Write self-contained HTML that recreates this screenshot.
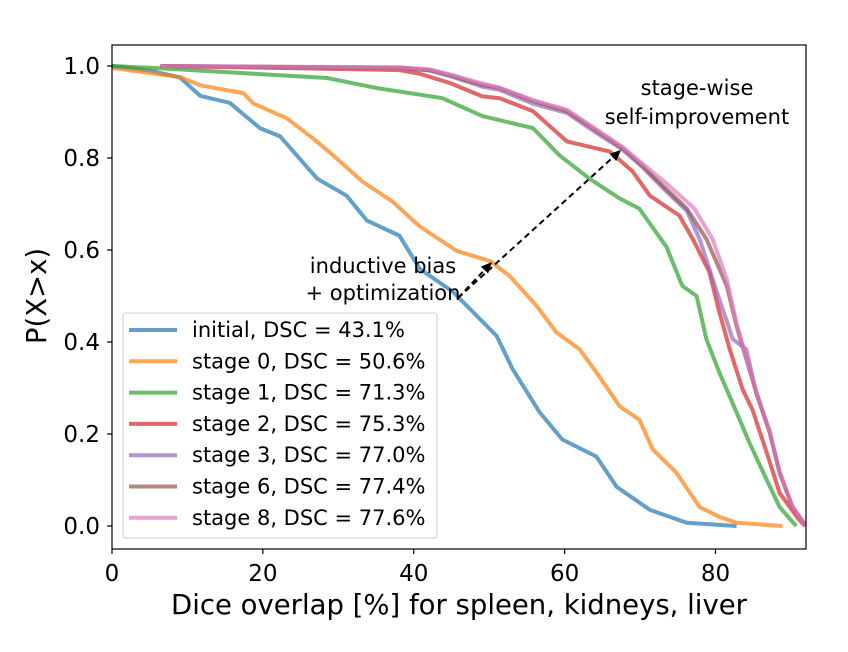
<!DOCTYPE html>
<html><head><meta charset="utf-8"><style>
body{margin:0;background:#fff}
svg text{font-family:"DejaVu Sans","Liberation Sans",sans-serif;fill:#000}
</style></head><body>
<svg id="chart" width="848" height="647" viewBox="0 0 848 647" xmlns="http://www.w3.org/2000/svg">
<rect width="848" height="647" fill="#fff"/>
<g id="plot"></g>
</svg>
<script>
const xTicks=[0,20,40,60,80];
const yTicks=[0.0,0.2,0.4,0.6,0.8,1.0];
const yTickLabels=["0.0","0.2","0.4","0.6","0.8","1.0"];
const seriesNames=["initial, DSC = 43.1%","stage 0, DSC = 50.6%","stage 1, DSC = 71.3%","stage 2, DSC = 75.3%","stage 3, DSC = 77.0%","stage 6, DSC = 77.4%","stage 8, DSC = 77.6%"];
const seriesColors=["#1f77b4","#ff7f0e","#2ca02c","#d62728","#9467bd","#8c564b","#e377c2"];
const initialX=[0,5,9,11.7,15.6,19.6,22.3,27.2,31.1,33.8,38.1,40.8,45.2,51,53.1,56.7,59.7,64.2,66.9,71.3,76.2,82.8];
const initialY=[1.0,0.99,0.975,0.935,0.92,0.865,0.847,0.755,0.718,0.664,0.631,0.559,0.509,0.413,0.341,0.247,0.188,0.151,0.085,0.035,0.007,0.0];
const stage0X=[0,9,11.7,17.4,18.7,23.2,26.6,29.3,33.2,37.2,40.8,45.7,50.1,52.7,56.3,58.9,62,64.6,67.3,69.9,71.7,74.8,77.9,80.5,82.8,88.9];
const stage0Y=[0.996,0.976,0.958,0.941,0.919,0.886,0.843,0.806,0.749,0.705,0.651,0.598,0.576,0.544,0.478,0.421,0.384,0.325,0.26,0.231,0.166,0.116,0.041,0.02,0.007,0.0];
const stage1X=[0,6.4,28.5,35.1,39.5,43.8,49.1,55.8,59.3,63.3,67.3,69.9,73.5,75.6,77.5,78.8,80.5,82.8,84.5,86.8,88.5,90.7];
const stage1Y=[1.0,0.995,0.974,0.952,0.941,0.93,0.891,0.865,0.806,0.755,0.712,0.69,0.607,0.522,0.5,0.406,0.334,0.247,0.181,0.1,0.041,0.0];
const stage2X=[7,38.1,40.8,44.8,49.1,51.4,55.8,60.3,66,69,71.3,75.2,77,79.2,80.5,81.9,83.6,84.9,86.8,88.5,91.1,91.9];
const stage2Y=[1.0,0.991,0.983,0.963,0.934,0.93,0.902,0.836,0.814,0.771,0.718,0.675,0.624,0.552,0.465,0.384,0.297,0.253,0.159,0.072,0.013,0.0];
const stage3X=[6.4,38.1,42.1,44.8,49.1,51.4,55.8,60.3,63.7,67.7,70.3,73,76.2,77.9,80.5,82.3,84.1,85.4,87.2,88.5,90.2,92];
const stage3Y=[1.0,0.996,0.99,0.978,0.955,0.948,0.918,0.898,0.86,0.818,0.78,0.735,0.685,0.624,0.493,0.406,0.384,0.29,0.203,0.116,0.041,0.0];
const stage6X=[6.4,38.1,42.1,44.8,49.1,51.4,55.8,60.3,63.7,67.7,70.3,73,76.2,78.8,81.5,82.8,84.1,85.4,87.2,88.5,90.2,92];
const stage6Y=[1.0,0.996,0.991,0.98,0.959,0.952,0.924,0.902,0.865,0.821,0.784,0.74,0.69,0.624,0.522,0.434,0.362,0.29,0.203,0.116,0.041,0.0];
const stage8X=[6.4,38.1,42.1,44.8,49.1,51.4,55.8,60.3,63.7,67.7,70.3,73.5,77.2,79.6,81.5,82.8,84.1,85.4,87.2,88.5,90.2,92];
const stage8Y=[1.0,0.997,0.993,0.982,0.962,0.953,0.926,0.905,0.868,0.824,0.788,0.745,0.69,0.624,0.537,0.44,0.365,0.293,0.205,0.118,0.043,0.0];
const allX=[initialX,stage0X,stage1X,stage2X,stage3X,stage6X,stage8X];
const allY=[initialY,stage0Y,stage1Y,stage2Y,stage3Y,stage6Y,stage8Y];

const L=112,R=806,T=45,B=549;
const sx=v=>L+(v-0)*(R-L)/92;
const sy=v=>526-v*460;
const NS="http://www.w3.org/2000/svg";
const g=document.getElementById('plot');
function mk(tag,attrs,parent){const e=document.createElementNS(NS,tag);for(const k in attrs)e.setAttribute(k,attrs[k]);(parent||g).appendChild(e);return e;}

const clip=mk('clipPath',{id:'cp'});mk('rect',{x:L,y:T,width:R-L,height:B-T},clip);
const lines=mk('g',{'clip-path':'url(#cp)'});


allX.forEach((xs,i)=>{
  let d='';
  xs.forEach((x,j)=>{
    const px=sx(x),py=sy(allY[i][j]);
    d+=(j===0?'M':' L')+px.toFixed(1)+' '+py.toFixed(1);
  });
  const p=mk('path',{d:d,fill:'none',stroke:seriesColors[i],'stroke-width':4,'stroke-opacity':0.7,'stroke-linejoin':'round'},lines);
  
  
});

const fr=mk('rect',{x:L,y:T,width:R-L,height:B-T,fill:'none',stroke:'#000','stroke-width':1.2});



xTicks.forEach(v=>{
  mk('line',{x1:sx(v),x2:sx(v),y1:B,y2:B+5,stroke:'#000','stroke-width':1.2});
  const t=mk('text',{x:sx(v),y:B+32,'text-anchor':'middle','font-size':23});t.textContent=v;
  
  
});
yTicks.forEach((v,i)=>{
  mk('line',{x1:L-5,x2:L,y1:sy(v),y2:sy(v),stroke:'#000','stroke-width':1.2});
  const t=mk('text',{x:L-12,y:sy(v)+8,'text-anchor':'end','font-size':23});t.textContent=yTickLabels[i];
  
  
});
const xl=mk('text',{x:459,y:614,'text-anchor':'middle','font-size':27.5});xl.textContent='Dice overlap [%] for spleen, kidneys, liver';


const yl=mk('text',{x:0,y:0,'text-anchor':'middle','font-size':27.5,transform:'translate(46,296) rotate(-90)'});yl.textContent='P(X>x)';



function ann(x1,y1,x2,y2,name){
  const a=mk('line',{x1:x1,y1:y1,x2:x2,y2:y2,stroke:'#000','stroke-width':2,'stroke-dasharray':'6,4'});
  
  
  const ang=Math.atan2(y2-y1,x2-x1),s=11,w=5;
  const bx=x2-s*Math.cos(ang),by=y2-s*Math.sin(ang);
  mk('polygon',{points:`${x2},${y2} ${bx+w*Math.sin(ang)},${by-w*Math.cos(ang)} ${bx-w*Math.sin(ang)},${by+w*Math.cos(ang)}`,fill:'#000'});
}
ann(458,298,492,262,'arrow-inductive-bias');
ann(458,298,621,150,'arrow-self-improvement');
[['inductive bias',383,273],['+ optimization',383,300],['stage-wise',697,95],['self-improvement',697,124]].forEach(a=>{
  const t=mk('text',{x:a[1],y:a[2],'text-anchor':'middle','font-family':'Liberation Sans, sans-serif','font-size':21});t.textContent=a[0];
  
  
});

const lg=mk('g',{});


mk('rect',{x:123,y:313,width:314,height:225,rx:3,fill:'#fff','fill-opacity':0.85,stroke:'#ccc','stroke-width':1},lg);
seriesNames.forEach((n,i)=>{
  const y=330+i*31.3;
  const e=mk('g',{},lg);
  
  
  mk('line',{x1:129,x2:177,y1:y,y2:y,stroke:seriesColors[i],'stroke-width':4,'stroke-opacity':0.7},e);
  const t=mk('text',{x:192,y:y+7,'font-size':21},e);t.textContent=n;
});
</script>
</body></html>
